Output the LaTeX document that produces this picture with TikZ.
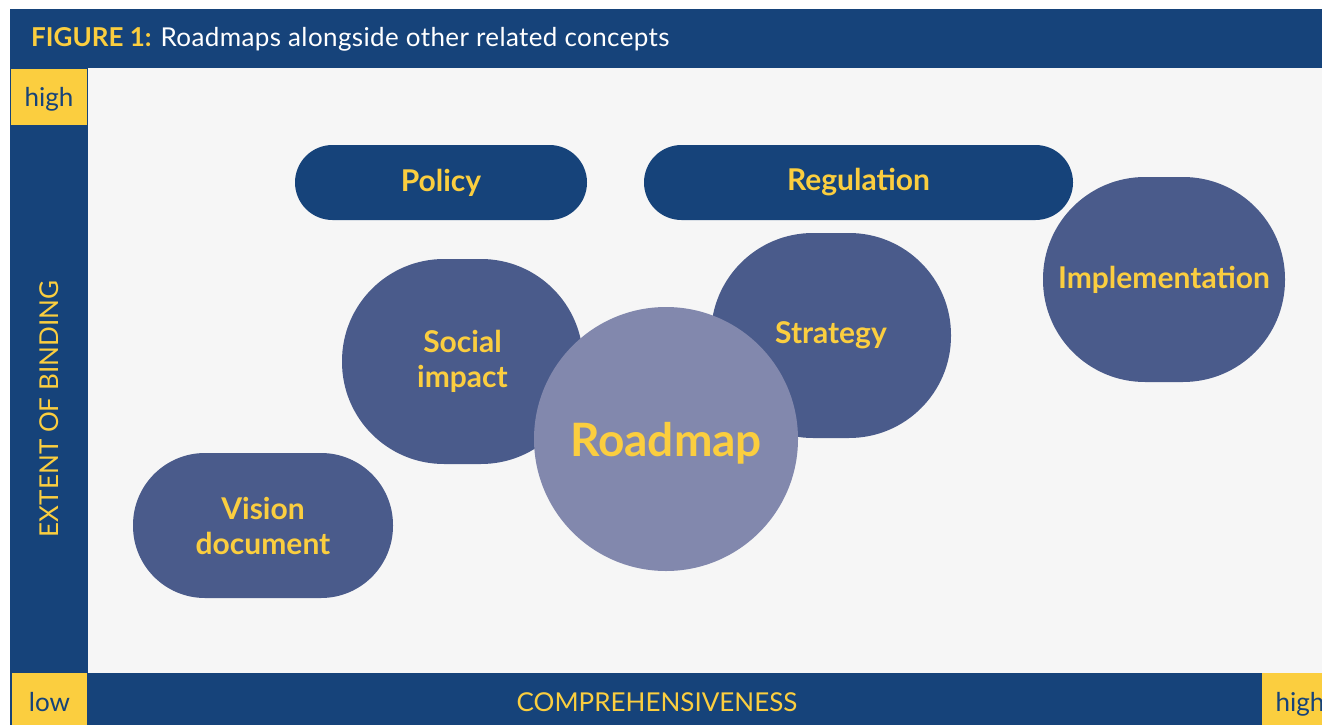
\documentclass[tikz,border=0pt]{standalone}
\usepackage{fontspec}
\setmainfont{Lato}
\definecolor{navy}{HTML}{16437A}
\definecolor{bubble}{HTML}{4A5B8B}
\definecolor{roadmapfill}{HTML}{8288AD}
\definecolor{gold}{HTML}{FBCE3F}
\definecolor{plotbg}{HTML}{F6F6F6}
% text whose baseline sits a given distance below the node centre
\newcommand{\lowered}[2]{\raisebox{-#1}[0pt][0pt]{#2}}
\begin{document}
\begin{tikzpicture}[x=1pt,y=-1pt,
  bubbletext/.style={inner sep=0pt, align=center, text=gold,
    font=\bfseries\fontsize{30}{35}\selectfont},
  pill/.style={bubbletext, fill=navy, minimum height=75pt, rounded corners=37.5pt},
  blob/.style={bubbletext, fill=bubble, minimum height=205pt, rounded corners=102pt},
  tag/.style={fill=gold, inner sep=0pt, text=navy, font=\fontsize{26}{30}\selectfont},
  axislabel/.style={inner sep=0pt, text=gold, font=\fontsize{26}{30}\selectfont}
]
\useasboundingbox (0,0) rectangle (1322,725);
\begin{scope}
\clip (0,0) rectangle (1322,725);
% background and frame
\fill[white] (0,0) rectangle (1322,725);
\fill[plotbg] (88,68) rectangle (1322,673);
\fill[navy] (10,9) rectangle (1322,68);
\fill[navy] (10,68) rectangle (88,725);
\fill[navy] (88,673) rectangle (1322,725);

% title
\node[anchor=base west, inner sep=0pt, text=white, font=\fontsize{26}{30}\selectfont]
  (title) at (31,47) {{\bfseries\color{gold}FIGURE 1:}\hspace{9pt}\addfontfeature{LetterSpace=1.5}Roadmaps alongside other related concepts};

% axis end tags
\node[tag, minimum width=76pt, minimum height=56pt] (yhigh) at (49,97) {\lowered{9pt}{high}};
\node[tag, minimum width=75pt, minimum height=52pt] (xlow) at (49.5,699) {\lowered{12pt}{low}};
\node[tag, minimum width=76pt, minimum height=52pt] (xhigh) at (1300,699) {\lowered{12pt}{high}};

% axis titles
\node[axislabel] (xtitle) at (657,702) {COMPREHENSIVENESS};
\node[axislabel, rotate=90] (ytitle) at (49,409) {EXTENT OF BINDING};

% concepts
\node[pill, minimum width=292pt] (policy) at (441,182.5) {Policy};
\node[pill, minimum width=429pt] (regulation) at (858.5,182.5) {Regulation};
\node[blob, minimum width=242pt] (implementation) at (1164,279.5) {Implementation};
\node[blob, minimum width=241pt] (social) at (462.5,361.5) {Social\\impact};
\node[blob, minimum width=240pt] (strategy) at (831,335.5) {Strategy};
\node[bubbletext, fill=bubble, minimum width=260pt, minimum height=145pt, rounded corners=72pt]
  (vision) at (263,525.5) {Vision\\document};
\node[circle, fill=roadmapfill, minimum size=264pt, inner sep=0pt, text=gold,
  font=\bfseries\fontsize{46}{54}\selectfont] (roadmap) at (666,439) {\lowered{17pt}{Roadmap}};
\end{scope}
\end{tikzpicture}
\end{document}
